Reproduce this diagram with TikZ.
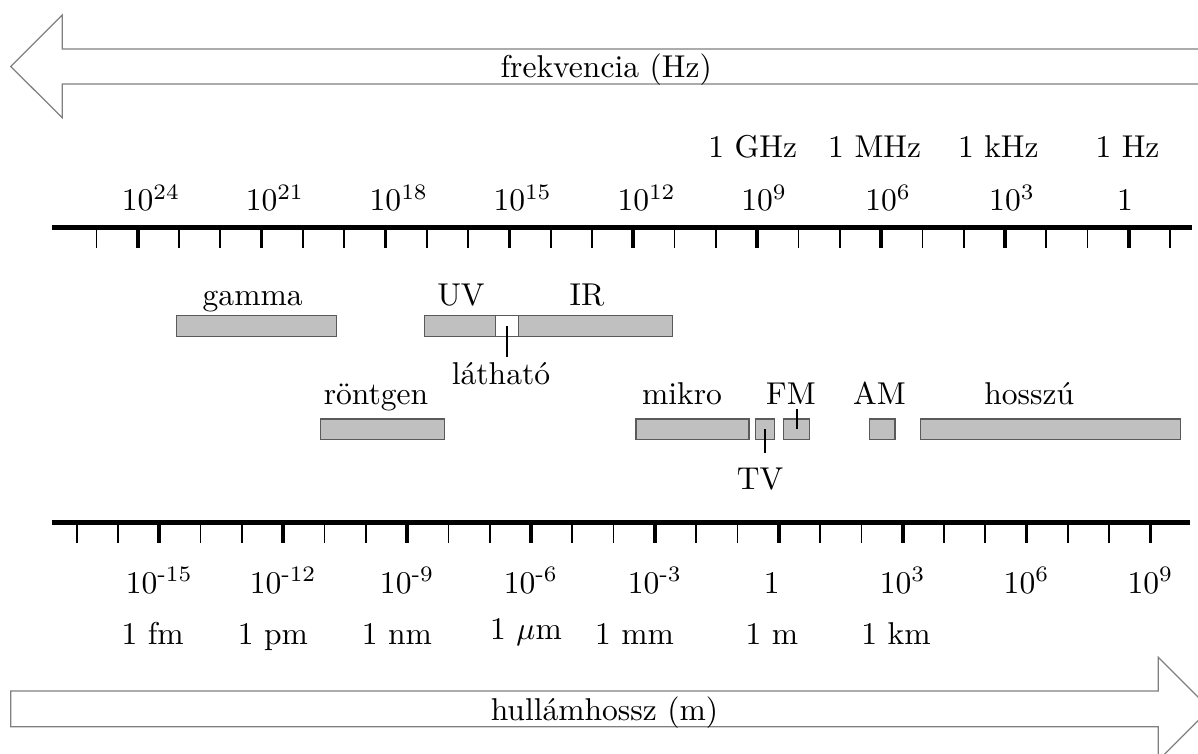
\documentclass[tikz,border=0pt]{standalone}
\usepackage{amsmath}
\usepackage{tikz}
\usetikzlibrary{calc}
\definecolor{bandfill}{RGB}{192,192,192}
\definecolor{banddraw}{RGB}{90,90,90}
\definecolor{arrowgray}{RGB}{128,128,128}

\tikzset{
  axisline/.style={line width=1.6pt},
  majortick/.style={line width=1.2pt},
  minortick/.style={line width=0.55pt},
  band/.style={draw=banddraw, fill=bandfill, line width=0.4pt},
  bigarrow/.style={draw=arrowgray, line width=0.4pt},
  lbl/.style={anchor=base, inner sep=0pt},
  pointer/.style={line width=0.6pt}
}

\begin{document}
\begin{tikzpicture}[x=0.46cm,y=0.46cm]
    \useasboundingbox (-18.857,-5.610) rectangle (10.150,12.646);

    % frequency arrow
    \draw[bigarrow] (10.6,11.46) -- (-17.349,11.46) -- (-17.349,12.283) -- (-18.598,11.036)
        -- (-17.349,9.797) -- (-17.349,10.613) -- (10.6,10.613);
    \node[lbl] (freqtext) at (-4.18,10.76) {frekvencia (Hz)};

    % frequency axis (tick at log c - exponent)
    \draw[axisline] (-17.605,7.133) -- (10.012,7.133);
    \foreach \e in {25,24,...,-1}
        \draw[minortick] ({8.477-\e},7.133) -- ({8.477-\e},6.633);
    \foreach \e in {24,21,...,0}
        \draw[majortick] ({8.477-\e},7.133) -- ({8.477-\e},6.633);
    \foreach \e in {24,21,18,15,12,9,6,3}
        \node[lbl] (f\e) at ({8.477-\e},7.538) {$10\rlap{$^{\e}$}$};
    \node[lbl] (f0) at (8.38,7.538) {$1$};

    % frequency units
    \node[lbl] (ghz) at (-0.632,8.838) {1 GHz};
    \node[lbl] (mhz) at (2.322,8.838) {1 MHz};
    \node[lbl] (khz) at (5.315,8.838) {1 kHz};
    \node[lbl] (hz) at (8.443,8.838) {1 Hz};

    % first row of bands
    \draw[band] (-14.576,4.5) rectangle (-10.709,5.0);
    \draw[band] (-8.584,4.5) rectangle (-6.855,5.0);
    \draw[band, fill=white] (-6.855,4.5) rectangle (-6.301,5.0);
    \draw[band] (-6.301,4.5) rectangle (-2.574,5.0);
    \node[lbl] (gamma) at (-12.739,5.25) {gamma};
    \node[lbl] (uv) at (-7.695,5.25) {UV};
    \node[lbl] (ir) at (-4.644,5.25) {IR};
    \node[lbl] (visible) at (-6.726,3.324) {látható};
    \coordinate (vismid) at (-6.578,4.75);
    \coordinate (visend) at (-6.578,4.0);
    \draw[pointer] (vismid) -- (visend);

    % second row of bands
    \draw[band] (-11.092,2.0) rectangle (-8.092,2.5);
    \draw[band] (-3.458,2.0) rectangle (-0.724,2.5);
    \draw[band] (-0.569,2.0) rectangle (-0.097,2.5);
    \draw[band] (0.116,2.0) rectangle (0.743,2.5);
    \draw[band] (2.196,2.0) rectangle (2.814,2.5);
    \draw[band] (3.433,2.0) rectangle (9.719,2.5);
    \node[lbl] (xray) at (-9.753,2.86) {röntgen};
    \node[lbl] (micro) at (-2.344,2.86) {mikro};
    \node[lbl] (fm) at (0.295,2.86) {FM};
    \node[lbl] (am) at (2.438,2.86) {AM};
    \node[lbl] (long) at (6.065,2.86) {hosszú};
    \node[lbl] (tv) at (-0.455,0.782) {TV};
    \coordinate (tvmid) at (-0.333,2.25);
    \coordinate (tvend) at (-0.333,1.671);
    \draw[pointer] (tvmid) -- (tvend);
    \coordinate (fmmid) at (0.43,2.25);
    \coordinate (fmend) at (0.43,2.743);
    \draw[pointer] (fmmid) -- (fmend);

    % wavelength axis
    \draw[axisline] (-17.605,0) -- (9.956,0);
    \foreach \w in {-17,...,9}
        \draw[minortick] (\w,0) -- (\w,-0.5);
    \foreach \w in {-15,-12,...,9}
        \draw[majortick] (\w,0) -- (\w,-0.5);
    \foreach \w/\s in {-15/\text{-}15,-12/\text{-}12,-9/\text{-}9,-6/\text{-}6,-3/\text{-}3,3/3,6/6,9/9}
        \node[lbl] (w\w) at (\w,-1.719) {$10^{\s}$};
    \node[lbl] (w0) at (-0.17,-1.719) {$1$};

    % wavelength units
    \node[lbl] (fm-unit) at (-15.16,-2.971) {1 fm};
    \node[lbl] (pm-unit) at (-12.247,-2.971) {1 pm};
    \node[lbl] (nm-unit) at (-9.245,-2.971) {1 nm};
    \node[lbl] (um-unit) at (-6.121,-2.833) {1 $\mu$m};
    \node[lbl] (mm-unit) at (-3.494,-2.971) {1 mm};
    \node[lbl] (m-unit) at (-0.165,-2.971) {1 m};
    \node[lbl] (km-unit) at (2.838,-2.971) {1 km};

    % wavelength arrow
    \draw[bigarrow] (-18.598,-4.085) -- (9.189,-4.085) -- (9.189,-3.269) -- (10.438,-4.517)
        -- (9.189,-5.765) -- (9.189,-4.949) -- (-18.598,-4.949) -- cycle;
    \node[lbl] (wavetext) at (-4.22,-4.79) {hullámhossz (m)};
\end{tikzpicture}
\end{document}
